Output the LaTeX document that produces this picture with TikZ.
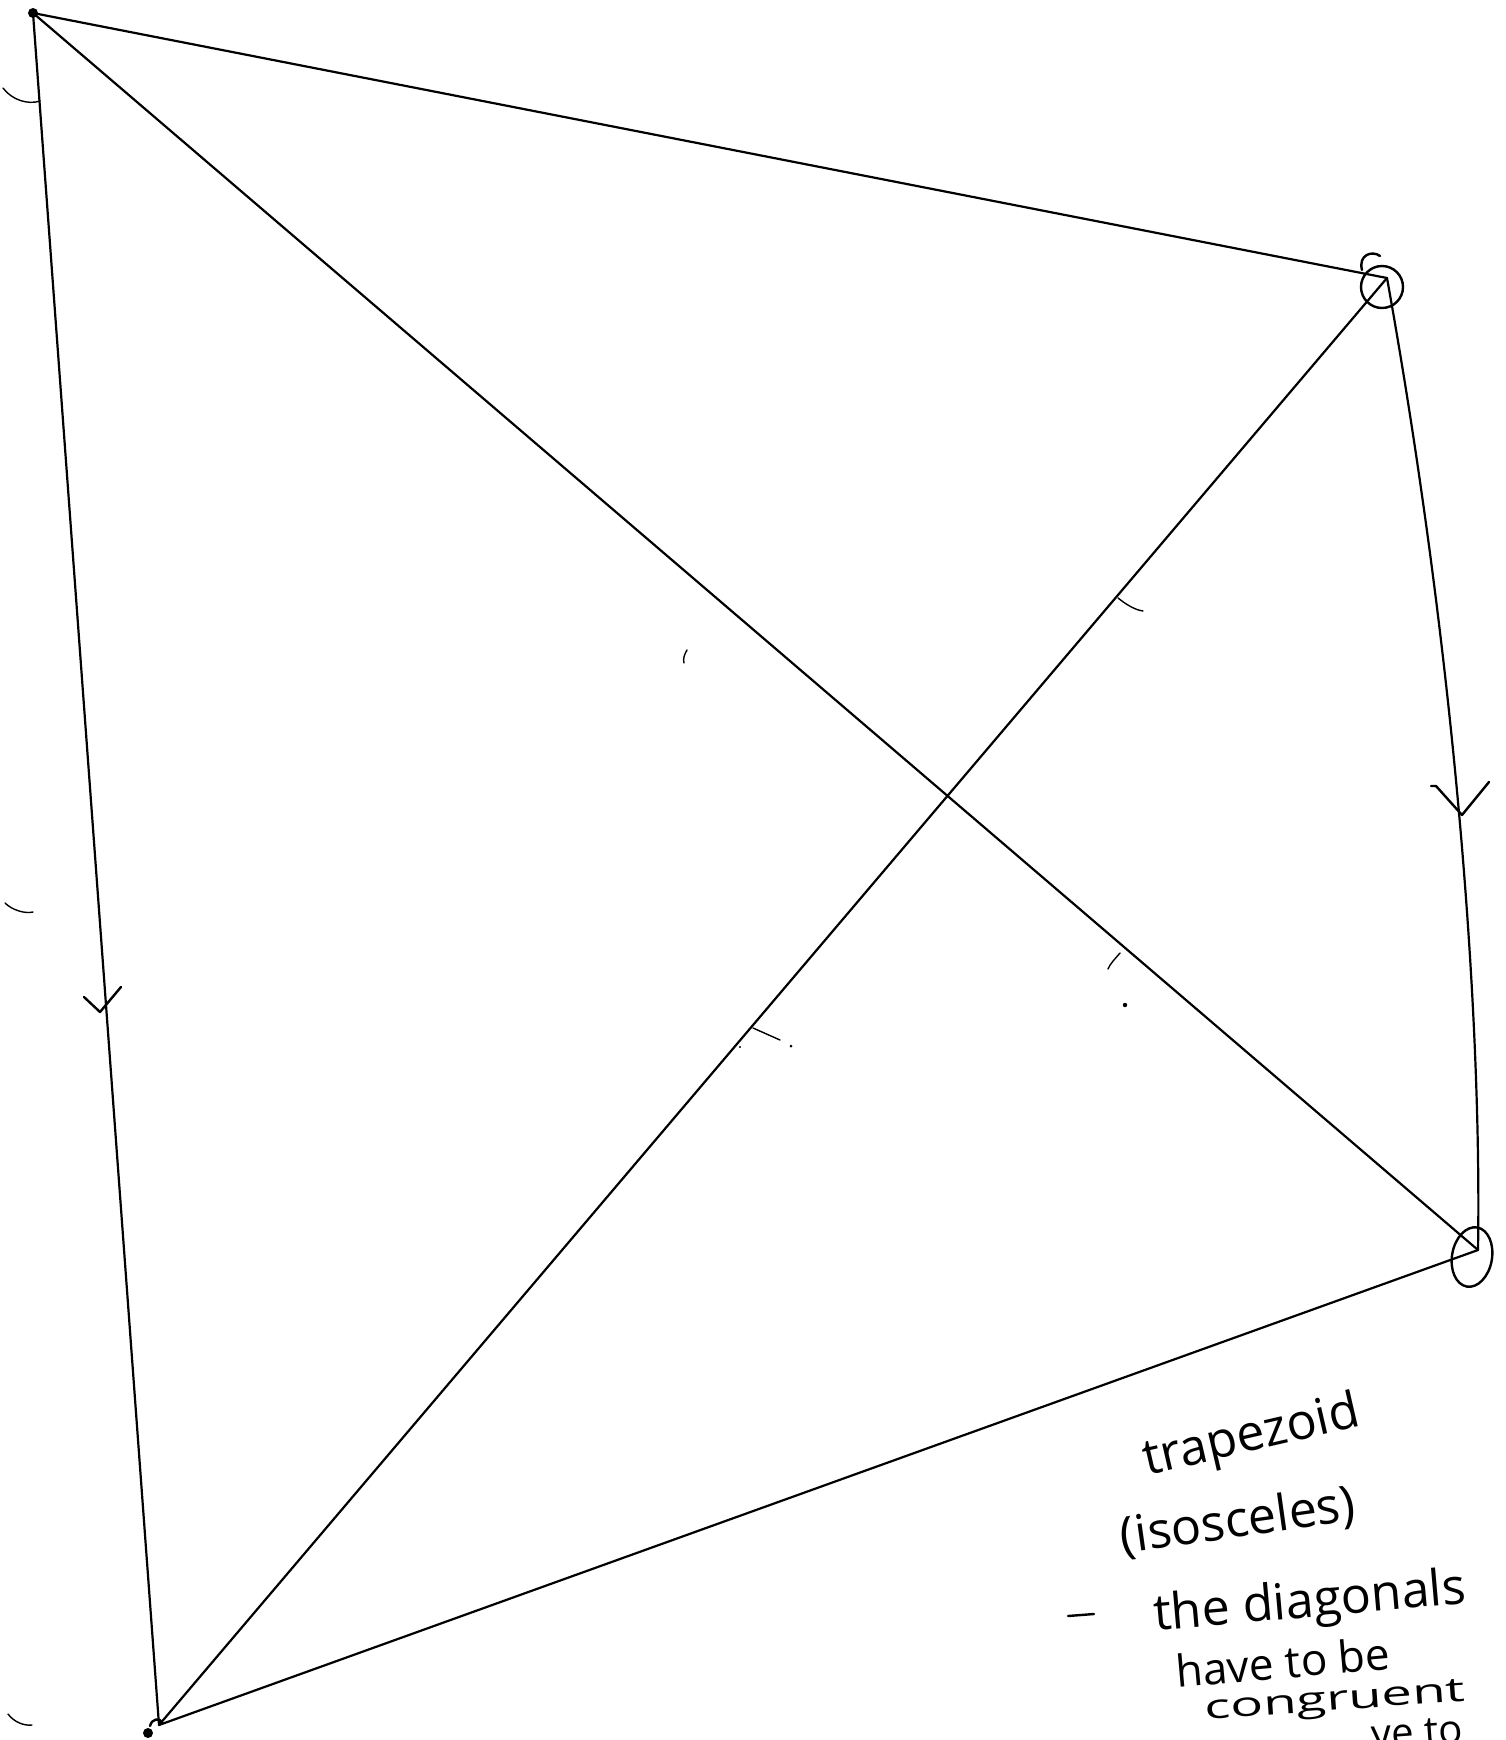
\documentclass[tikz,border=0pt]{standalone}
\usepackage{fontspec}
\usepackage{graphicx}
\setmainfont{Open Sans}
\begin{document}
\begin{tikzpicture}[x=1pt,y=-1pt,
  edge/.style={line width=2.2pt, line cap=round, line join=round},
  pen/.style={line width=2.4pt, line cap=round, line join=round},
  faint/.style={line width=1.4pt, line cap=round},
  hand/.style={inner sep=0pt, font=\fontsize{50}{56}\selectfont}]
\useasboundingbox (0,0) rectangle (1505,1740);
% vertices
\coordinate (A) at (33,13);
\coordinate (B) at (1387,278);
\coordinate (C) at (1478,1250);
\coordinate (D) at (159,1725);
% sides and diagonals
\draw[edge] (A) -- (B);
\draw[edge] (A) -- (D);
\draw[edge] (B) .. controls (1452,640) and (1482,1000) .. (C);
\draw[edge] (D) -- (C);
\draw[edge] (A) -- (C);
\draw[edge] (D) -- (B);
% vertex marks
\fill (A) circle (5);
\draw[pen] (1382,287) circle (21);
\draw[pen] (1362,270) .. controls (1358,255) and (1372,250) .. (1380,256);
\draw[pen, rotate around={-10:(1472,1257)}] (1472,1257) ellipse (20 and 30);
\fill (148,1733) circle (5);
\draw[pen] (150,1726) .. controls (152,1718) and (160,1718) .. (162,1722);
% parallel marks
\draw[pen] (84,997) -- (100,1012) -- (121,987);
\draw[pen] (1431,786) -- (1436,786) -- (1462,815) -- (1489,782);
% small ticks
\draw[faint] (1118,598) .. controls (1128,606) and (1136,610) .. (1143,611);
\draw[faint] (1120,953) .. controls (1114,960) and (1110,964) .. (1108,969);
\draw[faint] (753,1028) -- (780,1040);
\draw[faint] (687,650) .. controls (684,655) and (683,659) .. (684,663);
\fill (1125,1005) circle (2.2);
\fill (791,1046) circle (1.5);
\fill (740,1047) circle (1.2);
% binder-hole arcs on the left edge
\draw[faint] (3,88) .. controls (12,100) and (28,105) .. (40,101);
\draw[faint] (5,903) .. controls (12,910) and (25,914) .. (33,912);
\draw[faint] (8,1714) .. controls (14,1722) and (24,1726) .. (32,1725);
% handwritten notes
\node[hand, rotate=13] (t1) at (1252,1438) {trapezoid};
\node[hand, rotate=8] (t2) at (1238,1522) {(isosceles)};
\draw[pen] (1068,1616) -- (1094,1614);
\node[hand, rotate=5] (t3) at (1310,1604) {the diagonals};
\node[hand, rotate=5, font=\fontsize{44}{48}\selectfont] (t4) at (1283,1662) {have to be};
\node[hand, rotate=4, font=\fontsize{34}{40}\selectfont] (t5) at (1335,1703) {\scalebox{1.6}[1]{congruent}};
\node[hand, rotate=4, anchor=north east, font=\fontsize{40}{46}\selectfont] (t6) at (1462,1716) {ve to};
\end{tikzpicture}
\end{document}
